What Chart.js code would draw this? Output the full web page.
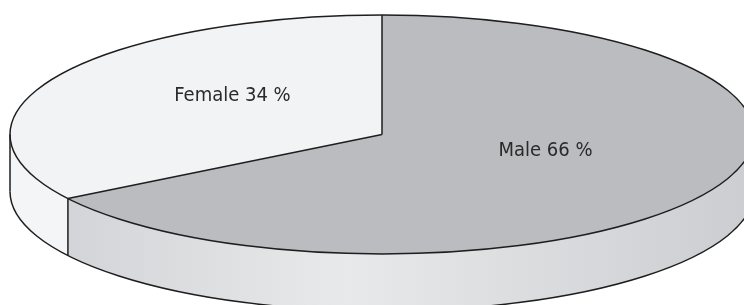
<!DOCTYPE html>
<html>
<head>
<meta charset="utf-8">
<script src="https://cdn.jsdelivr.net/npm/chart.js@4"></script>
<style>
  html, body { margin: 0; padding: 0; background: #ffffff; }
  #wrap { width: 744px; height: 305px; }
</style>
</head>
<body>
<div id="wrap"><canvas id="pie" width="744" height="305"></canvas></div>
<script>
// Data
const categories = ['Male', 'Female'];
const shares = [66, 34];

// Styles
const topColors = ['#bbbcc0', '#f2f3f5'];
const sideStops = [
    ['#cfd0d3', '#e8e9eb', '#cccdd0'],
    ['#f4f5f6', '#f4f5f6', '#f4f5f6']
];

// Geometry of the tilted pie
const CX = 382, CY = 134.5, RX = 372, RY = 119.5, DEPTH = 57;

function pt(a, dy) {
    return [CX + RX * Math.cos(a), CY + RY * Math.sin(a) + (dy || 0)];
}

const tiltPlugin = {
    id: 'tilt',
    beforeDatasetsDraw(chart) {
        const ctx = chart.ctx;
        const arcs = chart.getDatasetMeta(0).data;

        // side walls (front half only: angles 0..PI)
        arcs.forEach((arc, i) => {
            const s = arc.startAngle, e = arc.endAngle;
            [-2 * Math.PI, 0, 2 * Math.PI].forEach(k => {
                const lo = Math.max(s, k), hi = Math.min(e, k + Math.PI);
                if (hi <= lo) return;
                const g = ctx.createLinearGradient(CX - RX, 0, CX + RX, 0);
                g.addColorStop(0, sideStops[i][0]);
                g.addColorStop(0.45, sideStops[i][1]);
                g.addColorStop(1, sideStops[i][2]);
                ctx.save();
                ctx.beginPath();
                ctx.ellipse(CX, CY, RX, RY, 0, lo, hi);
                const p = pt(hi, DEPTH);
                ctx.lineTo(p[0], p[1]);
                ctx.ellipse(CX, CY + DEPTH, RX, RY, 0, hi, lo, true);
                ctx.closePath();
                ctx.fillStyle = g;
                ctx.fill();
                ctx.restore();
            });
        });

        // squash the library's circle into the top ellipse
        const a = arcs[0];
        ctx.save();
        ctx.translate(CX, CY);
        ctx.scale(RX / a.outerRadius, RY / a.outerRadius);
        ctx.translate(-a.x, -a.y);
    },
    afterDatasetsDraw(chart) {
        const ctx = chart.ctx;
        ctx.restore();
        const arcs = chart.getDatasetMeta(0).data;

        ctx.save();
        ctx.strokeStyle = '#1e1e1e';
        ctx.lineWidth = 1.5;
        ctx.lineJoin = 'round';

        // top rim
        ctx.beginPath();
        ctx.ellipse(CX, CY, RX, RY, 0, 0, 2 * Math.PI);
        ctx.stroke();
        // bottom rim
        ctx.beginPath();
        ctx.ellipse(CX, CY + DEPTH, RX, RY, 0, 0, Math.PI);
        ctx.stroke();
        // outer vertical edges
        [0, Math.PI].forEach(ang => {
            const p = pt(ang), q = pt(ang, DEPTH);
            ctx.beginPath();
            ctx.moveTo(p[0], p[1]);
            ctx.lineTo(q[0], q[1]);
            ctx.stroke();
        });
        // slice boundaries
        arcs.forEach(arc => {
            const ang = arc.startAngle;
            const p = pt(ang);
            ctx.beginPath();
            ctx.moveTo(CX, CY);
            ctx.lineTo(p[0], p[1]);
            ctx.stroke();
            if (Math.sin(ang) > 0.001) {
                const q = pt(ang, DEPTH);
                ctx.beginPath();
                ctx.moveTo(p[0], p[1]);
                ctx.lineTo(q[0], q[1]);
                ctx.stroke();
            }
        });

        // labels
        ctx.fillStyle = '#2a2a2a';
        ctx.font = '20px "DejaVu Sans Condensed", "DejaVu Sans", sans-serif';
        ctx.textAlign = 'center';
        ctx.textBaseline = 'middle';
        arcs.forEach((arc, i) => {
            const mid = (arc.startAngle + arc.endAngle) / 2;
            const f = 0.48;
            const x = CX + f * RX * Math.cos(mid) + 7;
            const y = CY + f * RY * Math.sin(mid) - 11;
            ctx.fillText(categories[i] + ' ' + shares[i] + ' %', x, y);
        });
        ctx.restore();
    }
};

new Chart(document.getElementById('pie').getContext('2d'), {
    type: 'pie',
    data: {
        labels: categories,
        datasets: [{
            data: shares,
            backgroundColor: topColors,
            borderWidth: 0,
            clip: false
        }]
    },
    options: {
        responsive: false,
        animation: false,
        events: [],
        plugins: {
            legend: { display: false },
            tooltip: { enabled: false }
        }
    },
    plugins: [tiltPlugin]
});
</script>
</body>
</html>
